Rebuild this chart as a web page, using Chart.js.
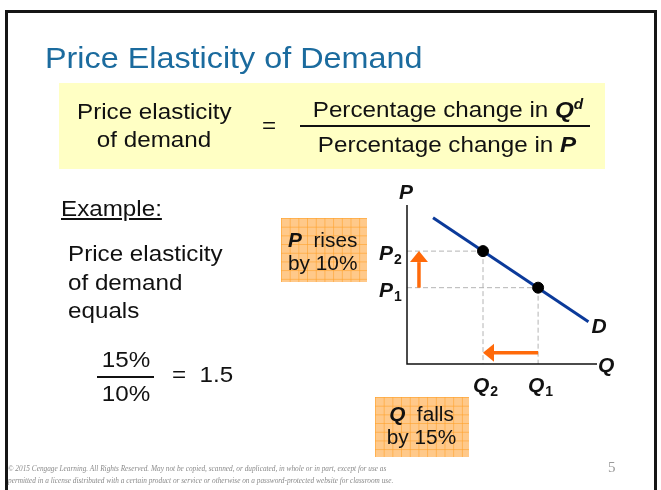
<!DOCTYPE html>
<html>
<head>
<meta charset="utf-8">
<script src="https://cdn.jsdelivr.net/npm/chart.js@4/dist/chart.umd.min.js"></script>
<style>
  html, body { margin: 0; padding: 0; background: #fff; }
  body { width: 661px; height: 490px; position: relative; overflow: hidden; font-family: "Liberation Sans", Arial, sans-serif; color: #111; }
  #chart { position: absolute; left: 0; top: 0; z-index: 1; }
  .frame { position: absolute; left: 5px; top: 10px; width: 646px; height: 500px; border: 3px solid #151515; border-bottom: none; z-index: 0; }
  .abs { position: absolute; z-index: 2; white-space: nowrap; }
  .wide { transform: scaleX(1.1); transform-origin: left top; }
  .wide.c { transform-origin: center top; text-align: center; }
  .title { left: 45px; top: 41px; font-size: 29px; line-height: 34px; color: #1b6b9e; transform: scaleX(1.115); transform-origin: left top; }
  .ybox { left: 59px; top: 83px; width: 546px; height: 86px; background: #ffffc4; z-index: 0; }
  .t22 { font-size: 22px; line-height: 28px; }
  .t20 { font-size: 20px; line-height: 23px; }
  .fracline { background: #111; height: 1.5px; }
  .obox { background-color: #ffc98a;
    background-image: linear-gradient(to right, rgba(255,160,40,0.6) 1px, transparent 1px),
                      linear-gradient(to bottom, rgba(255,160,40,0.6) 1px, transparent 1px);
    background-size: 8.7px 8.7px; z-index: 0; }
  .foot { left: 8px; font-family: "Liberation Serif", "DejaVu Serif", serif; font-style: italic; font-size: 7.3px; color: #8a8a8a; }
</style>
</head>
<body>
<div class="frame"></div>
<div class="abs title">Price Elasticity of Demand</div>
<div class="abs ybox"></div>
<div class="abs t22 wide c" style="left:84px;top:98.4px;width:140px;">Price elasticity<br>of demand</div>
<div class="abs t22 wide" style="left:262px;top:112.4px;">=</div>
<div class="abs t22 wide c" style="left:318px;top:90px;width:260px;">Percentage change in <b><i>Q<sup style="font-size:14px;">d</sup></i></b></div>
<div class="abs fracline" style="left:300px;top:125px;width:290px;"></div>
<div class="abs t22 wide c" style="left:317px;top:131.4px;width:260px;">Percentage change in <b><i>P</i></b></div>

<div class="abs t22 wide" style="left:61px;top:195px;text-decoration:underline;">Example:</div>
<div class="abs wide" style="left:68px;top:240.4px;font-size:22px;line-height:28.5px;">Price elasticity<br>of demand<br>equals</div>
<div class="abs t22 wide c" style="left:95.5px;top:346.4px;width:60px;">15%</div>
<div class="abs fracline" style="left:97px;top:376px;width:57px;"></div>
<div class="abs t22 wide c" style="left:95.5px;top:380px;width:60px;">10%</div>
<div class="abs t22 wide" style="left:172px;top:361px;">=&nbsp; 1.5</div>

<div class="abs obox" style="left:281px;top:218px;width:86px;height:64px;"></div>
<div class="abs t20" style="left:288px;top:228.6px;transform:scaleX(1.04);transform-origin:left top;"><b><i>P</i></b>&nbsp; rises<br>by 10%</div>
<div class="abs obox" style="left:375px;top:397px;width:94px;height:60px;"></div>
<div class="abs t20" style="left:384px;top:403.3px;width:75px;text-align:center;transform:scaleX(1.04);transform-origin:center top;"><b><i>Q</i></b>&nbsp; falls<br>by 15%</div>

<div class="abs foot" style="top:464px;">© 2015 Cengage Learning. All Rights Reserved. May not be copied, scanned, or duplicated, in whole or in part, except for use as</div>
<div class="abs foot" style="top:476px;">permitted in a license distributed with a certain product or service or otherwise on a password-protected website for classroom use.</div>
<div class="abs" style="left:608px;top:459px;font-family:'Liberation Serif',serif;font-size:15px;color:#999;">5</div>

<canvas id="chart" width="661" height="490"></canvas>
<script>
// demand curve endpoints (Q, P)
const demandQ = [1.37, 9.55];
const demandP = [9.2, 2.65];
// the two points on the curve
const quantities = [4.0, 6.9];   // Q2, Q1
const prices = [7.1, 4.8];       // P2, P1
const qLabels = ["2", "1"];
const pLabels = ["2", "1"];
// arrow positions
const arrowUpQ = 0.63;
const arrowLeftP = 0.71;

const demandColor = "#0b3a9a";
const arrowColor = "#ff6a0a";

const demandData = demandQ.map((q, i) => ({ x: q, y: demandP[i] }));
const pointData = quantities.map((q, i) => ({ x: q, y: prices[i] }));

function drawArrow(ctx, x1, y1, x2, y2) {
  const ang = Math.atan2(y2 - y1, x2 - x1);
  const headLen = 11, headHalf = 9;
  const bx = x2 - headLen * Math.cos(ang), by = y2 - headLen * Math.sin(ang);
  ctx.strokeStyle = arrowColor;
  ctx.fillStyle = arrowColor;
  ctx.lineWidth = 3.5;
  ctx.beginPath();
  ctx.moveTo(x1, y1);
  ctx.lineTo(bx, by);
  ctx.stroke();
  ctx.beginPath();
  ctx.moveTo(x2, y2);
  ctx.lineTo(bx + headHalf * Math.sin(ang), by - headHalf * Math.cos(ang));
  ctx.lineTo(bx - headHalf * Math.sin(ang), by + headHalf * Math.cos(ang));
  ctx.closePath();
  ctx.fill();
}

function subLabel(ctx, main, sub, cx, baseY) {
  ctx.font = "bold italic 21px 'Liberation Sans', Arial, sans-serif";
  const w1 = ctx.measureText(main).width;
  ctx.font = "bold 14px 'Liberation Sans', Arial, sans-serif";
  const w2 = ctx.measureText(sub).width;
  const x0 = cx - (w1 + w2) / 2;
  ctx.font = "bold italic 21px 'Liberation Sans', Arial, sans-serif";
  ctx.fillText(main, x0, baseY);
  ctx.font = "bold 14px 'Liberation Sans', Arial, sans-serif";
  ctx.fillText(sub, x0 + w1 + 1, baseY + 4);
}

const behind = {
  id: "behind",
  beforeDatasetsDraw(chart) {
    const { ctx, chartArea: a, scales: { x, y } } = chart;
    ctx.save();
    // dashed guide lines
    ctx.strokeStyle = "#b4b4b4";
    ctx.lineWidth = 1;
    ctx.setLineDash([5, 3]);
    pointData.forEach(p => {
      const px = x.getPixelForValue(p.x), py = y.getPixelForValue(p.y);
      ctx.beginPath();
      ctx.moveTo(a.left, py);
      ctx.lineTo(px, py);
      ctx.moveTo(px, py);
      ctx.lineTo(px, a.bottom);
      ctx.stroke();
    });
    ctx.setLineDash([]);
    // axes
    ctx.strokeStyle = "#111";
    ctx.lineWidth = 1.5;
    ctx.beginPath();
    ctx.moveTo(a.left, a.top);
    ctx.lineTo(a.left, a.bottom);
    ctx.lineTo(a.right, a.bottom);
    ctx.stroke();
    ctx.restore();
  },
  afterDraw(chart) {
    const { ctx, chartArea: a, scales: { x, y } } = chart;
    ctx.save();
    // arrows
    drawArrow(ctx, x.getPixelForValue(arrowUpQ), y.getPixelForValue(prices[1]),
      x.getPixelForValue(arrowUpQ), y.getPixelForValue(prices[0]));
    drawArrow(ctx, x.getPixelForValue(quantities[1]), y.getPixelForValue(arrowLeftP),
      x.getPixelForValue(quantities[0]), y.getPixelForValue(arrowLeftP));
    // labels
    ctx.fillStyle = "#111";
    ctx.textBaseline = "alphabetic";
    ctx.font = "bold italic 21px 'Liberation Sans', Arial, sans-serif";
    ctx.textAlign = "left";
    ctx.fillText("P", a.left - 8, a.top - 6);
    ctx.fillText("Q", a.right + 1, a.bottom + 8);
    const end = demandData[demandData.length - 1];
    ctx.fillText("D", x.getPixelForValue(end.x) + 3, y.getPixelForValue(end.y) + 11);
    pointData.forEach((p, i) => {
      subLabel(ctx, "P", pLabels[i], a.left - 17, y.getPixelForValue(p.y) + 9);
      subLabel(ctx, "Q", qLabels[i], x.getPixelForValue(p.x) + 2, a.bottom + 28);
    });
    ctx.restore();
  }
};

new Chart(document.getElementById("chart"), {
  type: "scatter",
  data: {
    datasets: [
      {
        label: "D",
        data: demandData,
        showLine: true,
        borderColor: demandColor,
        borderWidth: 3,
        pointRadius: 0,
        order: 2
      },
      {
        label: "points",
        data: pointData,
        backgroundColor: "#000",
        borderColor: "#000",
        pointRadius: 5.5,
        order: 1
      }
    ]
  },
  options: {
    responsive: false,
    animation: false,
    layout: { padding: { left: 407, right: 64, top: 205, bottom: 126 } },
    plugins: { legend: { display: false }, tooltip: { enabled: false } },
    scales: {
      x: { type: "linear", min: 0, max: 10, display: false },
      y: { type: "linear", min: 0, max: 10, display: false }
    }
  },
  plugins: [behind]
});
</script>
</body>
</html>
